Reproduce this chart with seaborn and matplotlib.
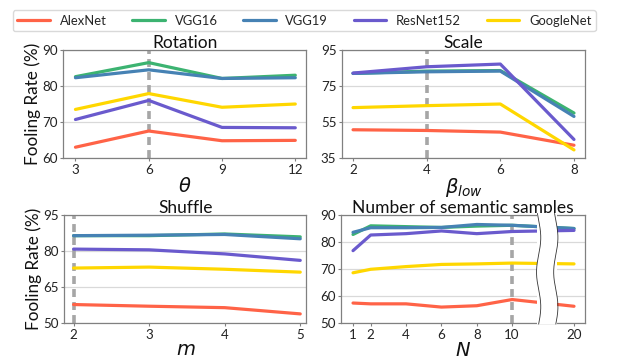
import numpy as np
import pandas as pd
import matplotlib
matplotlib.use('Agg')
import matplotlib.pyplot as plt
from matplotlib.patches import Rectangle
import seaborn as sns

models = ['AlexNet', 'VGG16', 'VGG19', 'ResNet152', 'GoogleNet']
colors = ['#ff6347', '#3cb371', '#4682b4', '#6a5acd', '#ffd700']

# Rotation
rot_x = [3, 6, 9, 12]
rot_alexnet = [63.0, 67.5, 64.8, 64.9]
rot_vgg16 = [82.6, 86.5, 82.1, 83.0]
rot_vgg19 = [82.3, 84.5, 82.1, 82.3]
rot_resnet = [70.7, 76.0, 68.5, 68.4]
rot_google = [73.5, 77.9, 74.1, 75.0]

# Scale
scale_x = [2, 4, 6, 8]
scale_alexnet = [50.7, 50.3, 49.4, 42.1]
scale_vgg16 = [82.0, 83.3, 83.6, 60.0]
scale_vgg19 = [82.0, 82.9, 83.3, 58.1]
scale_resnet = [82.2, 85.7, 87.2, 45.3]
scale_google = [63.0, 64.1, 65.0, 39.5]

# Shuffle
shuf_x = [2, 3, 4, 5]
shuf_alexnet = [57.7, 57.0, 56.4, 53.8]
shuf_vgg16 = [86.4, 86.4, 87.1, 85.9]
shuf_vgg19 = [86.4, 86.6, 86.9, 85.1]
shuf_resnet = [80.8, 80.5, 78.8, 76.1]
shuf_google = [72.9, 73.3, 72.4, 71.2]

# Number of semantic samples (20 drawn after an axis break)
n_labels = ['1', '2', '4', '6', '8', '10', '20']
n_pos = [1, 2, 4, 6, 8, 10, 13.5]
n_alexnet = [57.4, 57.1, 57.1, 55.9, 56.4, 58.7, 56.2]
n_vgg16 = [82.8, 86.0, 85.7, 85.4, 85.9, 86.2, 85.0]
n_vgg19 = [83.6, 85.3, 85.3, 85.4, 86.5, 86.2, 85.0]
n_resnet = [76.8, 82.6, 83.1, 84.1, 83.1, 83.9, 84.3]
n_google = [68.6, 69.9, 70.9, 71.7, 71.9, 72.2, 71.9]


def make_df(x, series):
    rows = []
    for m, vals in zip(models, series):
        for xi, v in zip(x, vals):
            rows.append({'x': xi, 'y': v, 'model': m})
    return pd.DataFrame(rows)


panels = [
    dict(df=make_df(rot_x, [rot_alexnet, rot_vgg16, rot_vgg19, rot_resnet, rot_google]),
         title='Rotation', xlabel=r'$\theta$', xticks=rot_x, xtl=[str(v) for v in rot_x],
         xlim=(2.5, 12.45), ylim=(60, 90), yticks=[60, 70, 80, 90], vline=6),
    dict(df=make_df(scale_x, [scale_alexnet, scale_vgg16, scale_vgg19, scale_resnet, scale_google]),
         title='Scale', xlabel=r'$\beta_{low}$', xticks=scale_x, xtl=[str(v) for v in scale_x],
         xlim=(1.7, 8.3), ylim=(35, 95), yticks=[35, 55, 75, 95], vline=4),
    dict(df=make_df(shuf_x, [shuf_alexnet, shuf_vgg16, shuf_vgg19, shuf_resnet, shuf_google]),
         title='Shuffle', xlabel=r'$m$', xticks=shuf_x, xtl=[str(v) for v in shuf_x],
         xlim=(1.88, 5.08), ylim=(50, 95), yticks=[50, 65, 80, 95], vline=2),
    dict(df=make_df(n_pos, [n_alexnet, n_vgg16, n_vgg19, n_resnet, n_google]),
         title='Number of semantic samples', xlabel=r'$N$', xticks=n_pos, xtl=n_labels,
         xlim=(0.32, 14.12), ylim=(50, 90), yticks=[50, 60, 70, 80, 90], vline=10),
]

sns.set_style('white')
plt.rcParams['font.family'] = ['Lato', 'DejaVu Sans']
plt.rcParams['mathtext.fontset'] = 'dejavusans'

fig = plt.figure(figsize=(6.2, 3.62), dpi=100)
rects = [
    [0.102, 0.5635, 0.392, 0.2983],
    [0.5516, 0.5635, 0.392, 0.2983],
    [0.104, 0.1077, 0.390, 0.2983],
    [0.550, 0.1077, 0.3935, 0.2983],
]

palette = dict(zip(models, colors))
axes = []
for i, (p, r) in enumerate(zip(panels, rects)):
    ax = fig.add_axes(r)
    axes.append(ax)
    ax.axvline(p['vline'], color='#a6a6a6', ls=(0, (2.2, 1.4)), lw=2.6, zorder=1.5)
    sns.lineplot(data=p['df'], x='x', y='y', hue='model', hue_order=models,
                 palette=palette, lw=2.3, ax=ax, legend=(i == 0), zorder=3)
    ax.set_xlim(*p['xlim'])
    ax.set_ylim(*p['ylim'])
    ax.set_xticks(p['xticks'])
    ax.set_xticklabels(p['xtl'])
    ax.set_yticks(p['yticks'])
    ax.yaxis.grid(True, color='#d9d9d9', lw=0.9)
    ax.set_axisbelow(True)
    for s in ax.spines.values():
        s.set_color('#808080')
        s.set_linewidth(0.9)
    ax.tick_params(axis='both', labelsize=9.6, length=2.5, width=0.8, color='#808080',
                   pad=1.5, labelcolor='#222222', bottom=True, left=True)
    ax.set_title(p['title'], fontsize=12.5, pad=1.5, color='#111111')
    ax.set_xlabel(p['xlabel'], fontsize=14, labelpad=0, color='#111111')
    if i % 2 == 0:
        ax.set_ylabel('Fooling Rate (%)', fontsize=12.3, labelpad=1, color='#111111')
    else:
        ax.set_ylabel('')

# axis break on the N panel
ax = axes[3]
bx0, bx1 = 11.42, 12.55
ax.add_patch(Rectangle((bx0, 49.6), bx1 - bx0, 41.0, facecolor='white', edgecolor='none',
                       zorder=5, clip_on=False))
t = np.linspace(0, 1, 200)
yy = 49.6 + t * 41.0
wave = 0.12 * np.sin(2 * np.pi * 1.6 * t)
for bx in (bx0 + 0.08, bx1 - 0.08):
    ax.plot(bx + wave, yy, color='#333333', lw=0.6, zorder=6, clip_on=False)

handles, labels = axes[0].get_legend_handles_labels()
axes[0].get_legend().remove()
for h in handles:
    h.set_linewidth(2.3)
fig.legend(handles, labels, loc='upper left', bbox_to_anchor=(0.01, 0.99), ncol=5,
           fontsize=9.4, frameon=True, fancybox=True, edgecolor='#d0d0d0',
           handlelength=2.5, handletextpad=0.75, columnspacing=1.95, borderpad=0.35)

fig.savefig('out.png', dpi=100)
